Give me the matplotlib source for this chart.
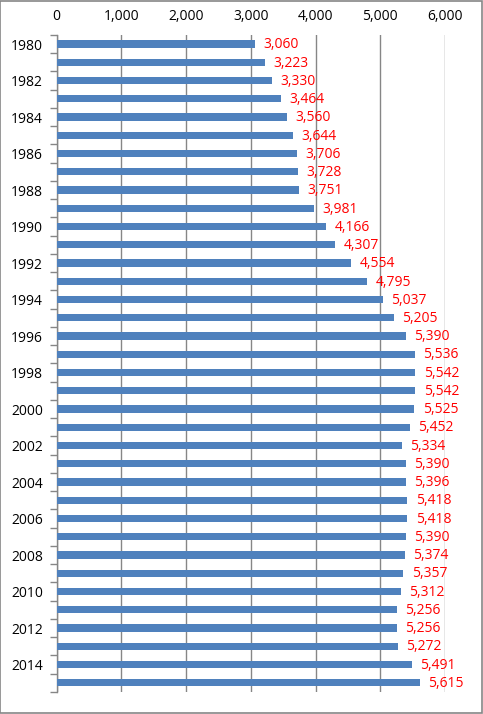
import numpy as np
import matplotlib
matplotlib.use("Agg")
import matplotlib.pyplot as plt

years = list(range(1980, 2016))
values = [3060, 3223, 3330, 3464, 3560, 3644, 3706, 3728, 3751, 3981,
          4166, 4307, 4554, 4795, 5037, 5205, 5390, 5536, 5542, 5542,
          5525, 5452, 5334, 5390, 5396, 5418, 5418, 5390, 5374, 5357,
          5312, 5256, 5256, 5272, 5491, 5615]
x_ticks = [0, 1000, 2000, 3000, 4000, 5000, 6000]

plt.rcParams['font.family'] = ['Open Sans', 'DejaVu Sans']

fig = plt.figure(figsize=(4.83, 7.14), dpi=100)
ax = fig.add_axes([0.1174, 0.031, 0.804, 0.920])

pos = np.arange(len(years))
ax.barh(pos, values, height=0.4, color='#4f81bd', zorder=3)
ax.set_ylim(len(years) - 0.5, -0.5)
ax.set_xlim(0, 6000)

for p, v in zip(pos, values):
    ax.annotate(f"{v:,}", (v, p), xytext=(6, -0.5), textcoords='offset points',
                va='center', ha='left', color='red', fontsize=10, zorder=4)

ax.xaxis.tick_top()
ax.set_xticks(x_ticks)
ax.set_xticklabels([f"{t:,}" for t in x_ticks], fontsize=10)
ax.tick_params(axis='x', length=0, pad=8)
ax.grid(axis='x', color='#868686', linewidth=1, zorder=0)

ax.set_yticks(pos[::2])
ax.set_yticklabels([str(y) for y in years[::2]], fontsize=10)
ax.set_yticks(np.arange(len(years) + 1) - 0.5, minor=True)
ax.tick_params(axis='y', which='major', length=0, pad=10)
ax.tick_params(axis='y', which='minor', length=5, color='#868686', width=1)

for s in ['top', 'right', 'bottom']:
    ax.spines[s].set_visible(False)
ax.spines['left'].set_color('#868686')
ax.spines['left'].set_linewidth(1)

fig.patches.append(plt.Rectangle((0.001, 0.001), 0.997, 0.997, transform=fig.transFigure,
                                 fill=False, edgecolor='#868686', linewidth=1.2))

fig.savefig("out.png", dpi=100)
